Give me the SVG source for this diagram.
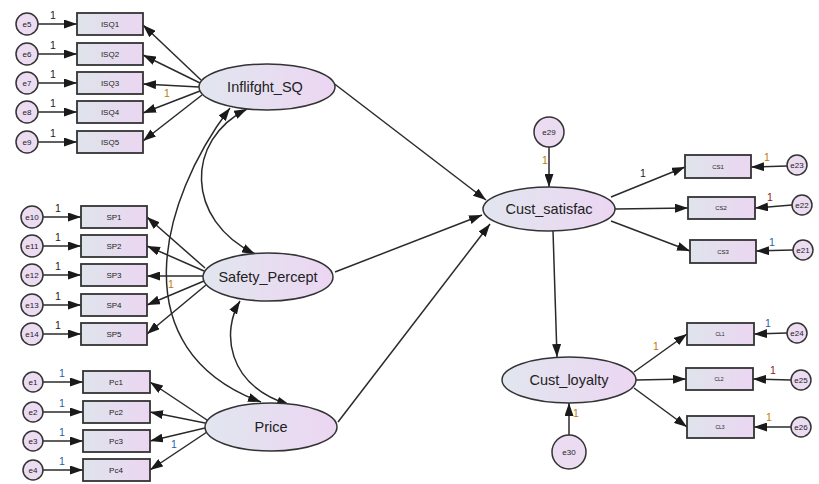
<svg xmlns="http://www.w3.org/2000/svg" width="819" height="484" viewBox="0 0 819 484">
<defs>
<linearGradient id="gEl" x1="0" y1="0" x2="1" y2="0"><stop offset="0" stop-color="#e1e6ef"/><stop offset="1" stop-color="#ecd6f2"/></linearGradient>
<linearGradient id="gRc" x1="0" y1="0" x2="1" y2="0"><stop offset="0" stop-color="#dfe4ec"/><stop offset="1" stop-color="#ebd6f1"/></linearGradient>
<marker id="ah" viewBox="0 0 13 9" refX="13" refY="4.5" markerWidth="13" markerHeight="9" markerUnits="userSpaceOnUse" orient="auto-start-reverse"><path d="M0,0 L13,4.5 L0,9 z" fill="#1a1a1a"/></marker>
<style>
.lat ellipse{fill:url(#gEl);stroke:#333;stroke-width:1.5}
.obs rect{fill:url(#gRc);stroke:#333;stroke-width:1.8}
.err circle{fill:#ecdcf2;stroke:#333;stroke-width:1.5}
.lt{font-family:"Liberation Sans",Arial,sans-serif;font-size:14.5px;fill:#222;text-anchor:middle}
.ot{font-family:"Liberation Sans",Arial,sans-serif;font-size:8px;fill:#222;text-anchor:middle}
.os{font-family:"Liberation Sans",Arial,sans-serif;font-size:5px;fill:#222;text-anchor:middle}
.et{font-family:"Liberation Sans",Arial,sans-serif;font-size:8px;fill:#222;text-anchor:middle}
.n{font-family:"Liberation Sans",Arial,sans-serif;font-size:10.5px;fill:#222}
.nb{fill:#1f5fae}.no{fill:#c07a00}.nr{fill:#8b1a1a}
#connectors line,#connectors path{stroke:#2a2a2a;stroke-width:1.5;fill:none;marker-end:url(#ah)}
#connectors path.cov{marker-start:url(#ah)}
</style>
</defs>
<rect width="819" height="484" fill="#ffffff"/>

<g id="connectors">
<line x1="38" y1="24" x2="77" y2="24"/>
<line x1="38" y1="54" x2="77" y2="54"/>
<line x1="38" y1="83" x2="77" y2="83"/>
<line x1="38" y1="112" x2="77" y2="112"/>
<line x1="38" y1="142" x2="77" y2="142"/>
<line x1="43" y1="217" x2="81" y2="217"/>
<line x1="43" y1="246" x2="81" y2="246"/>
<line x1="43" y1="275" x2="81" y2="275"/>
<line x1="43" y1="305" x2="81" y2="305"/>
<line x1="43" y1="334" x2="81" y2="334"/>
<line x1="43" y1="382" x2="83" y2="382"/>
<line x1="43" y1="412" x2="83" y2="412"/>
<line x1="43" y1="441" x2="83" y2="441"/>
<line x1="43" y1="470" x2="83" y2="470"/>
<line x1="787" y1="166" x2="751" y2="167"/>
<line x1="792" y1="205" x2="755" y2="208"/>
<line x1="793" y1="250" x2="756" y2="251"/>
<line x1="787" y1="333" x2="754" y2="334"/>
<line x1="791" y1="380" x2="753" y2="379"/>
<line x1="791" y1="427" x2="754" y2="427"/>
<line x1="549" y1="147" x2="549" y2="187"/>
<line x1="569" y1="435" x2="569" y2="403"/>
<line x1="201" y1="80" x2="143" y2="25"/>
<line x1="200" y1="83" x2="143" y2="55"/>
<line x1="199" y1="87" x2="143" y2="84"/>
<line x1="200" y1="91" x2="143" y2="113"/>
<line x1="202" y1="95" x2="143" y2="141"/>
<line x1="205" y1="268" x2="147" y2="217"/>
<line x1="204" y1="271" x2="147" y2="246"/>
<line x1="203" y1="276" x2="147" y2="276"/>
<line x1="204" y1="281" x2="147" y2="305"/>
<line x1="206" y1="285" x2="147" y2="334"/>
<line x1="207" y1="420" x2="150" y2="382"/>
<line x1="205" y1="423" x2="150" y2="412"/>
<line x1="205" y1="428" x2="150" y2="441"/>
<line x1="207" y1="432" x2="150" y2="470"/>
<line x1="611" y1="197" x2="685" y2="167"/>
<line x1="615" y1="209" x2="688" y2="208"/>
<line x1="611" y1="221" x2="690" y2="251"/>
<line x1="634" y1="372" x2="687" y2="334"/>
<line x1="636" y1="380" x2="686" y2="379"/>
<line x1="634" y1="388" x2="687" y2="427"/>
<line x1="332" y1="82" x2="486" y2="200"/>
<line x1="335" y1="272" x2="482" y2="215"/>
<line x1="338" y1="422" x2="490" y2="224"/>
<line x1="553" y1="231" x2="557" y2="357"/>
<path class="cov" d="M247,109 C185,140 185,220 255,254"/>
<path class="cov" d="M230,108 C160,200 120,350 261,402"/>
<path class="cov" d="M240,301 C222,330 225,385 290,405"/>
</g>

<g id="ISQ1" class="obs"><rect x="77" y="13" width="66" height="22"/><text class="ot" x="110" y="27">ISQ1</text></g>
<g id="ISQ2" class="obs"><rect x="77" y="43" width="66" height="22"/><text class="ot" x="110" y="57">ISQ2</text></g>
<g id="ISQ3" class="obs"><rect x="77" y="72" width="66" height="22"/><text class="ot" x="110" y="86">ISQ3</text></g>
<g id="ISQ4" class="obs"><rect x="77" y="101" width="66" height="22"/><text class="ot" x="110" y="115">ISQ4</text></g>
<g id="ISQ5" class="obs"><rect x="77" y="131" width="66" height="22"/><text class="ot" x="110" y="145">ISQ5</text></g>

<g id="SP1" class="obs"><rect x="81" y="206" width="66" height="22"/><text class="ot" x="114" y="220">SP1</text></g>
<g id="SP2" class="obs"><rect x="81" y="235" width="66" height="22"/><text class="ot" x="114" y="249">SP2</text></g>
<g id="SP3" class="obs"><rect x="81" y="264" width="66" height="22"/><text class="ot" x="114" y="278">SP3</text></g>
<g id="SP4" class="obs"><rect x="81" y="294" width="66" height="22"/><text class="ot" x="114" y="308">SP4</text></g>
<g id="SP5" class="obs"><rect x="81" y="323" width="66" height="22"/><text class="ot" x="114" y="337">SP5</text></g>

<g id="Pc1" class="obs"><rect x="83" y="371" width="67" height="22"/><text class="ot" x="116" y="385">Pc1</text></g>
<g id="Pc2" class="obs"><rect x="83" y="401" width="67" height="22"/><text class="ot" x="116" y="415">Pc2</text></g>
<g id="Pc3" class="obs"><rect x="83" y="430" width="67" height="22"/><text class="ot" x="116" y="444">Pc3</text></g>
<g id="Pc4" class="obs"><rect x="83" y="459" width="67" height="22"/><text class="ot" x="116" y="473">Pc4</text></g>

<g id="CS1" class="obs"><rect x="685" y="155" width="66" height="23"/><text class="os" x="718" y="168.5" style="font-size:6px">CS1</text></g>
<g id="CS2" class="obs"><rect x="688" y="197" width="67" height="22"/><text class="os" x="721" y="210" style="font-size:6px">CS2</text></g>
<g id="CS3" class="obs"><rect x="690" y="240" width="66" height="23"/><text class="os" x="723" y="253.5" style="font-size:6px">CS3</text></g>

<g id="CL1" class="obs"><rect x="687" y="323" width="67" height="22"/><text class="os" x="720" y="335.5">CL1</text></g>
<g id="CL2" class="obs"><rect x="686" y="368" width="67" height="22"/><text class="os" x="719" y="380.5">CL2</text></g>
<g id="CL3" class="obs"><rect x="687" y="416" width="67" height="22"/><text class="os" x="720" y="428.5">CL3</text></g>

<g id="Inflifght_SQ" class="lat"><ellipse cx="267" cy="87" rx="68" ry="23"/><text class="lt" x="265" y="92">Inflifght_SQ</text></g>
<g id="Safety_Percept" class="lat"><ellipse cx="268" cy="277" rx="65" ry="24"/><text class="lt" x="268" y="282">Safety_Percept</text></g>
<g id="Price" class="lat"><ellipse cx="271" cy="427" rx="66" ry="24"/><text class="lt" x="271" y="432">Price</text></g>
<g id="Cust_satisfac" class="lat"><ellipse cx="549" cy="209" rx="66" ry="22"/><text class="lt" x="549" y="214">Cust_satisfac</text></g>
<g id="Cust_loyalty" class="lat"><ellipse cx="569" cy="380" rx="67" ry="23"/><text class="lt" x="569" y="385">Cust_loyalty</text></g>

<g id="e5" class="err"><circle cx="27" cy="24" r="11"/><text class="et" x="27" y="27">e5</text></g>
<g id="e6" class="err"><circle cx="27" cy="54" r="11"/><text class="et" x="27" y="57">e6</text></g>
<g id="e7" class="err"><circle cx="27" cy="83" r="11"/><text class="et" x="27" y="86">e7</text></g>
<g id="e8" class="err"><circle cx="27" cy="112" r="11"/><text class="et" x="27" y="115">e8</text></g>
<g id="e9" class="err"><circle cx="27" cy="142" r="11"/><text class="et" x="27" y="145">e9</text></g>
<g id="e10" class="err"><circle cx="32" cy="217" r="11"/><text class="et" x="32" y="220">e10</text></g>
<g id="e11" class="err"><circle cx="32" cy="246" r="11"/><text class="et" x="32" y="249">e11</text></g>
<g id="e12" class="err"><circle cx="32" cy="275" r="11"/><text class="et" x="32" y="278">e12</text></g>
<g id="e13" class="err"><circle cx="32" cy="305" r="11"/><text class="et" x="32" y="308">e13</text></g>
<g id="e14" class="err"><circle cx="32" cy="334" r="11"/><text class="et" x="32" y="337">e14</text></g>
<g id="e1" class="err"><circle cx="33" cy="382" r="10"/><text class="et" x="33" y="385">e1</text></g>
<g id="e2" class="err"><circle cx="33" cy="412" r="10"/><text class="et" x="33" y="415">e2</text></g>
<g id="e3" class="err"><circle cx="33" cy="441" r="10"/><text class="et" x="33" y="444">e3</text></g>
<g id="e4" class="err"><circle cx="33" cy="470" r="10"/><text class="et" x="33" y="473">e4</text></g>
<g id="e23" class="err"><circle cx="797" cy="165" r="10"/><text class="et" x="797" y="168">e23</text></g>
<g id="e22" class="err"><circle cx="802" cy="205" r="10"/><text class="et" x="802" y="208">e22</text></g>
<g id="e21" class="err"><circle cx="803" cy="250" r="10"/><text class="et" x="803" y="253">e21</text></g>
<g id="e24" class="err"><circle cx="797" cy="333" r="10"/><text class="et" x="797" y="336">e24</text></g>
<g id="e25" class="err"><circle cx="801" cy="380" r="10"/><text class="et" x="801" y="383">e25</text></g>
<g id="e26" class="err"><circle cx="801" cy="427" r="10"/><text class="et" x="801" y="430">e26</text></g>
<g id="e29" class="err"><circle cx="549" cy="132" r="15"/><text class="et" x="549" y="135">e29</text></g>
<g id="e30" class="err"><circle cx="569" cy="452" r="17"/><text class="et" x="569" y="455">e30</text></g>

<g id="weights">
<text class="n" x="50" y="19">1</text>
<text class="n" x="50" y="49">1</text>
<text class="n" x="50" y="78">1</text>
<text class="n" x="50" y="107">1</text>
<text class="n" x="50" y="137">1</text>
<text class="n no" x="164" y="97">1</text>
<text class="n" x="55" y="212">1</text>
<text class="n" x="55" y="241">1</text>
<text class="n" x="55" y="270">1</text>
<text class="n" x="55" y="300">1</text>
<text class="n" x="55" y="329">1</text>
<text class="n no" x="168" y="288">1</text>
<text class="n nb" x="59" y="377">1</text>
<text class="n nb" x="59" y="407">1</text>
<text class="n nb" x="59" y="436">1</text>
<text class="n nb" x="59" y="465">1</text>
<text class="n nb" x="171" y="448">1</text>
<text class="n no" x="764" y="161">1</text>
<text class="n nr" x="767" y="201">1</text>
<text class="n nb" x="769" y="246">1</text>
<text class="n nb" x="765" y="327">1</text>
<text class="n nr" x="770" y="374">1</text>
<text class="n no" x="766" y="421">1</text>
<text class="n no" x="542" y="164">1</text>
<text class="n no" x="573" y="417">1</text>
<text class="n" x="640" y="177">1</text>
<text class="n no" x="653" y="350">1</text>
</g>
</svg>
